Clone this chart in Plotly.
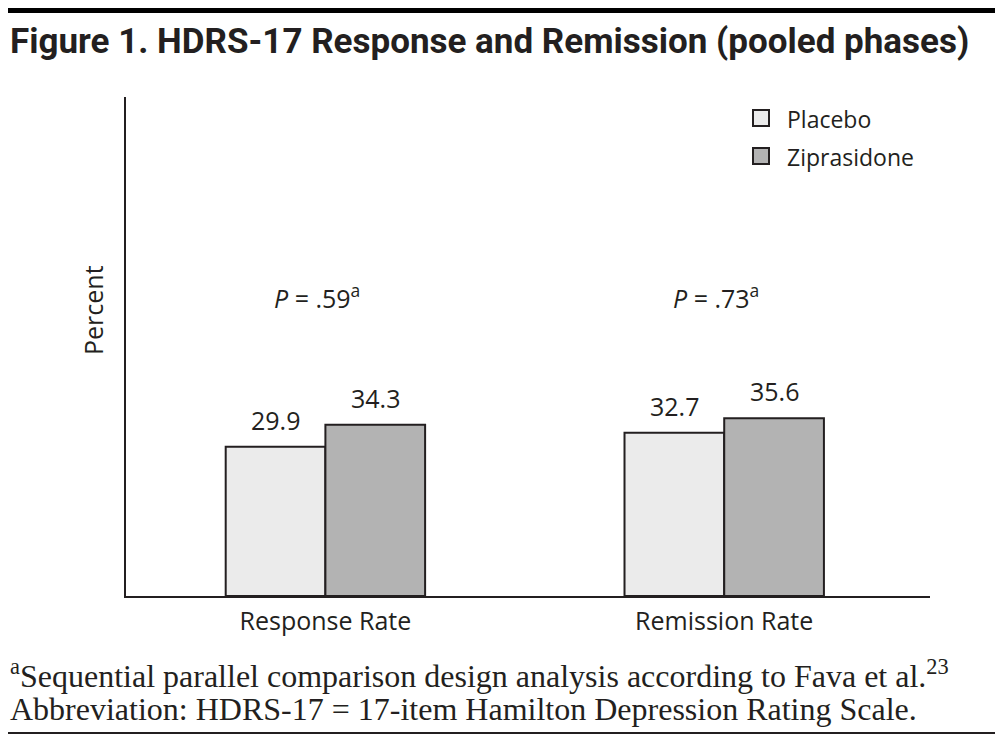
import plotly.graph_objects as go

categories = ["Response Rate", "Remission Rate"]
series_names = ["Placebo", "Ziprasidone"]
placebo = [29.9, 32.7]
ziprasidone = [34.3, 35.6]
p_labels = ["<i>P</i> = .59<sup>a</sup>", "<i>P</i> = .73<sup>a</sup>"]
colors = ["#ebebeb", "#b3b3b3"]
title = "Figure 1. HDRS-17 Response and Remission (pooled phases)"
foot1 = "<sup>a</sup>Sequential parallel comparison design analysis according to Fava et al.<sup>23</sup>"
foot2 = "Abbreviation: HDRS-17 = 17-item Hamilton Depression Rating Scale."

# page body has an 8px margin; compensate so screen pixels match the reference
OFF = 8
W, H = 1003, 740
L, R, T, B = 126, 930, 97, 596
def px(x):
    return (x - L) / (R - L)
def py(y):
    return (B - y) / (B - T)

SANS = "Open Sans"
SERIF = "Liberation Serif"
INK = "#231f20"

fig = go.Figure()
values = [placebo, ziprasidone]
for name, vals, col in zip(series_names, values, colors):
    fig.add_trace(go.Bar(
        x=categories, y=vals, name=name,
        marker=dict(color=col, line=dict(color=INK, width=2)),
        showlegend=False,
    ))

annotations = []
# value labels
for j, vals in enumerate(values):
    for i, v in enumerate(vals):
        annotations.append(dict(
            x=i + (j - 0.5) * 0.25, y=v, xref="x", yref="y",
            text=f"{v:.1f}", showarrow=False, yanchor="bottom", yshift=8,
            font=dict(family=SANS, size=25, color=INK)))
# P labels
for i, t in enumerate(p_labels):
    annotations.append(dict(
        x=i, y=py(296), xref="x", yref="paper", text=t, showarrow=False,
        xshift=-8, yanchor="middle",
        font=dict(family=SANS, size=25, color=INK)))
# y-axis title
annotations.append(dict(
    x=px(93), y=py(310), xref="paper", yref="paper", text="Percent",
    textangle=-90, showarrow=False, xanchor="center", yanchor="middle",
    font=dict(family=SANS, size=25, color=INK)))
# title
annotations.append(dict(
    x=px(8), y=py(41), xref="paper", yref="paper", text=f"<b>{title}</b>",
    xanchor="left", yanchor="middle", showarrow=False,
    font=dict(family="Roboto", size=35, color=INK)))
# footnotes
annotations.append(dict(
    x=px(8), y=py(674), xref="paper", yref="paper", text=foot1,
    xanchor="left", yanchor="middle", showarrow=False,
    font=dict(family=SERIF, size=32, color=INK)))
annotations.append(dict(
    x=px(8), y=py(709), xref="paper", yref="paper", text=foot2,
    xanchor="left", yanchor="middle", showarrow=False,
    font=dict(family=SERIF, size=32, color=INK)))

shapes = [
    dict(type="rect", xref="paper", yref="paper", x0=px(8), x1=px(995),
         y0=py(6), y1=py(13), fillcolor="#000000", line=dict(width=0)),
    dict(type="line", xref="paper", yref="paper", x0=px(8), x1=px(995),
         y0=py(733), y1=py(733), line=dict(color=INK, width=2)),
]
# manual legend
leg_y = [118, 156]
for name, col, yc in zip(series_names, colors, leg_y):
    shapes.append(dict(type="rect", xref="paper", yref="paper",
                       x0=px(753), x1=px(769), y0=py(yc - 8), y1=py(yc + 8),
                       fillcolor=col, line=dict(color=INK, width=2)))
    annotations.append(dict(
        x=px(785), y=py(yc + 1), xref="paper", yref="paper", text=name,
        xanchor="left", yanchor="middle", showarrow=False,
        font=dict(family=SANS, size=23, color=INK)))

fig.update_layout(
    width=W - OFF, height=H - OFF,
    margin=dict(l=L - OFF, r=W - R, t=T - OFF, b=H - B, pad=0),
    paper_bgcolor="white", plot_bgcolor="white",
    barmode="group", bargap=0.5, bargroupgap=0,
    annotations=annotations, shapes=shapes,
    xaxis=dict(range=[-0.5, 1.516], showline=True, linecolor=INK, linewidth=2,
               ticks="", showgrid=False, zeroline=False,
               tickfont=dict(family=SANS, size=25, color=INK),
               ticklabelstandoff=2),
    yaxis=dict(range=[0, 100], showline=True, linecolor=INK, linewidth=2,
               showticklabels=False, ticks="", showgrid=False, zeroline=False),
)

fig.write_html("out.html")
